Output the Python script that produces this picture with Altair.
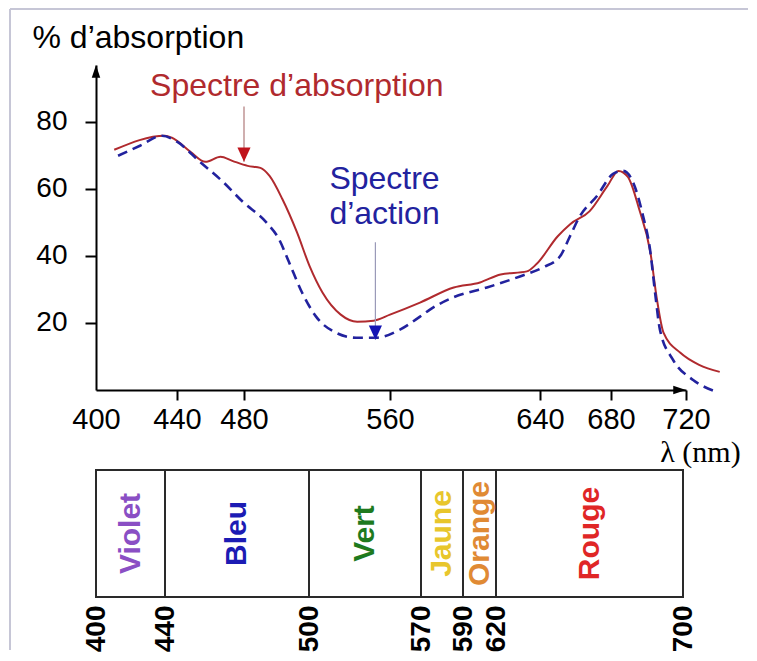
import altair as alt
import pandas as pd

# ---------------- data ----------------
abs_nm = [409, 434, 437.5, 448, 457, 466, 473, 482, 489, 494, 501, 509, 516, 523, 533, 542, 551, 560,
          576, 594, 608, 619, 633, 638, 650, 657, 668, 678, 684, 689, 695, 701, 704.5, 708, 717, 727, 738]
abs_val = [71.7, 75.9, 75.3, 71.1, 68.1, 69.6, 68.4, 66.9, 66.3, 63.9, 57, 47.1, 36.9, 29.1, 22.5, 20.4, 20.7, 22.5,
           26.1, 30.6, 32.1, 34.5, 35.4, 37.5, 45.9, 49.5, 53.4, 60.9, 65.4, 63.6, 54, 41.1, 27, 17.1, 11.1, 7.5, 5.4]

act_nm = [410.9, 421.7, 432.6, 440, 453.7, 467.5, 479.4, 492.1, 499.2, 504.7, 511.8, 519.5, 530.4, 541.4, 552.3,
          565.3, 576, 581.3, 593.6, 611.7, 629.3, 641.7, 651.3, 656.9, 662.5, 672.1, 681.1, 686.4, 691.7, 697.1,
          700.8, 703.5, 706.1, 713.1, 723.8, 736.6]
act_val = [69.9, 72.9, 75.9, 74.1, 68.1, 62.1, 56.1, 50.1, 45, 38.1, 29.1, 21.9, 17.1, 15.6, 15.6,
           18, 21.9, 24, 27.6, 30.6, 33.9, 36.6, 39.9, 45.9, 51.9, 57.9, 64.5, 65.4, 62.1, 51.9,
           42, 29.1, 18, 9, 3, -0.6]

x_ticks = [400, 440, 480, 560, 640, 680, 720]
y_ticks = [20, 40, 60, 80]

bands = ["Violet", "Bleu", "Vert", "Jaune", "Orange", "Rouge"]
band_start = [400, 440, 500, 570, 590, 620]
band_end = [440, 500, 570, 590, 620, 700]
band_colors = ["#8a4fc4", "#1c1cb4", "#1e7a1e", "#e8c62c", "#e08a34", "#e02626"]
band_ticks = [400, 440, 500, 570, 590, 620, 700]

# annotation anchors (data units)
red_label = {"nm": 426.7, "v": 90.6, "t": "Spectre d’absorption"}
red_arrow = {"nm": 480, "top": 84.6, "tip": 68.1}
blue_label = [{"nm": 557, "v": 63, "t": "Spectre"}, {"nm": 557, "v": 52.5, "t": "d’action"}]
blue_arrow = {"nm": 552, "top": 44.1, "tip": 15.0}

FONT = "Liberation Sans"
RED = "#b02a2e"
BLUE = "#22229e"

# ---------------- top chart ----------------
xs = alt.Scale(domain=x_ticks, range=[0, 81, 148, 294, 444, 515, 590])
ys = alt.Scale(domain=[0, 97])

df_abs = pd.DataFrame({"nm": abs_nm, "v": abs_val})
df_act = pd.DataFrame({"nm": act_nm, "v": act_val})

x_axis = alt.Axis(values=x_ticks, grid=False, domainColor="black", domainWidth=2, tickColor="black",
                  tickWidth=2, tickSize=10, labelFontSize=29, labelFont=FONT, labelColor="black",
                  labelPadding=5, labelFlush=False, labelOverlap=False,
                  tickOpacity={"condition": {"test": "datum.value === 400", "value": 0}, "value": 1},
                  title="λ (nm)", titleFont="Liberation Serif", titleFontSize=30, titleFontWeight="normal",
                  titleColor="black", titleX=604, titleY=62, titleAlign="center", titleBaseline="middle")
y_axis = alt.Axis(values=y_ticks, grid=False, domainColor="black", domainWidth=2, tickColor="black",
                  tickWidth=2, tickSize=11, labelFontSize=28, labelFont=FONT, labelColor="black",
                  labelPadding=18,
                  title="% d’absorption", titleAngle=0, titleAlign="left", titleBaseline="alphabetic",
                  titleX=-64, titleY=-18, titleFont=FONT, titleFontSize=32, titleFontWeight="normal",
                  titleColor="black")

base_line = alt.Chart(df_abs).mark_line(color=RED, strokeWidth=2, interpolate="monotone").encode(
    x=alt.X("nm:Q", scale=xs, axis=x_axis),
    y=alt.Y("v:Q", scale=ys, axis=y_axis),
)
act_line = alt.Chart(df_act).mark_line(color=BLUE, strokeWidth=2.6, strokeDash=[10, 6],
                                       interpolate="monotone").encode(
    x=alt.X("nm:Q", scale=xs), y=alt.Y("v:Q", scale=ys))

# axis arrows
y_arrow = alt.Chart(pd.DataFrame({"nm": [400], "v": [97]})).mark_point(
    shape="M0,0L0.6,1.8L-0.6,1.8Z", filled=True, color="black", opacity=1, size=200).encode(
    x=alt.X("nm:Q", scale=xs), y=alt.Y("v:Q", scale=ys))
x_arrow = alt.Chart(pd.DataFrame({"nm": [720], "v": [0]})).mark_point(
    shape="M0,0L-1.8,-0.6L-1.8,0.6Z", filled=True, color="black", opacity=1, size=200).encode(
    x=alt.X("nm:Q", scale=xs), y=alt.Y("v:Q", scale=ys))

# annotations
red_txt = alt.Chart(pd.DataFrame([red_label])).mark_text(
    align="left", baseline="middle", font=FONT, fontSize=32, color=RED).encode(
    x=alt.X("nm:Q", scale=xs), y=alt.Y("v:Q", scale=ys), text="t:N")
red_shaft = alt.Chart(pd.DataFrame([red_arrow])).mark_rule(color="#b07a7a", strokeWidth=1.2).encode(
    x=alt.X("nm:Q", scale=xs), y=alt.Y("top:Q", scale=ys), y2="tip:Q")
red_head = alt.Chart(pd.DataFrame([red_arrow])).mark_point(
    shape="M0,0L-0.6,-1.3L0.6,-1.3Z", filled=True, color="#c0141c", opacity=1, size=480).encode(
    x=alt.X("nm:Q", scale=xs), y=alt.Y("tip:Q", scale=ys))

blue_txt = alt.Chart(pd.DataFrame(blue_label)).mark_text(
    align="center", baseline="middle", font=FONT, fontSize=32, color=BLUE).encode(
    x=alt.X("nm:Q", scale=xs), y=alt.Y("v:Q", scale=ys), text="t:N")
blue_shaft = alt.Chart(pd.DataFrame([blue_arrow])).mark_rule(color="#9a9ab8", strokeWidth=1.2).encode(
    x=alt.X("nm:Q", scale=xs), y=alt.Y("top:Q", scale=ys), y2="tip:Q")
blue_head = alt.Chart(pd.DataFrame([blue_arrow])).mark_point(
    shape="M0,0L-0.6,-1.3L0.6,-1.3Z", filled=True, color="#1414b4", opacity=1, size=480).encode(
    x=alt.X("nm:Q", scale=xs), y=alt.Y("tip:Q", scale=ys))

# light picture frame (top and left edges, as in the scanned figure)
frame_v = alt.Chart(pd.DataFrame({"k": [0]})).mark_rule(color="#c6c6d6", strokeWidth=2).encode(
    x=alt.value(-86), y=alt.value(-56), y2=alt.value(585))
frame_h = alt.Chart(pd.DataFrame({"k": [0]})).mark_rule(color="#c6c6d6", strokeWidth=2).encode(
    x=alt.value(-86), x2=alt.value(652), y=alt.value(-56))

top = alt.layer(frame_v, frame_h, base_line, act_line, y_arrow, x_arrow, red_shaft, red_head, red_txt,
                blue_shaft, blue_head, blue_txt).properties(width=627, height=325)

# ---------------- bottom chart ----------------
df_bands = pd.DataFrame({"band": bands, "start": band_start, "end": band_end, "color": band_colors,
                         "lo": [0] * 6, "hi": [1] * 6, "mid_y": [0.5] * 6})
bxs = alt.Scale(domain=band_ticks, range=[0, 69, 213, 325, 367, 400, 587])
bys = alt.Scale(domain=[0, 1])

rects = alt.Chart(df_bands).mark_rect(fill="white", stroke="#2a2a2a", strokeWidth=2).encode(
    x=alt.X("start:Q", scale=bxs,
            axis=alt.Axis(values=band_ticks, domain=False, ticks=False, grid=False, labelAngle=270,
                          labelFontSize=28, labelFontWeight="bold", labelFont=FONT, labelColor="black",
                          labelPadding=8, labelFlush=False, labelOverlap=False, title=None)),
    x2="end:Q",
    y=alt.Y("lo:Q", scale=bys, axis=None),
    y2="hi:Q",
)
labels = alt.Chart(df_bands).transform_calculate(mid="(datum.start + datum.end) / 2").mark_text(
    angle=270, align="center", baseline="middle", font=FONT, fontSize=30, fontWeight="bold").encode(
    x=alt.X("mid:Q", scale=bxs),
    y=alt.Y("mid_y:Q", scale=bys),
    text="band:N",
    color=alt.Color("color:N", scale=None),
)
bottom = alt.layer(rects, labels).properties(width=587, height=127)

chart = alt.vconcat(top, bottom, spacing=80, bounds="flush").properties(
    padding={"left": 1, "top": 0, "right": 0, "bottom": 0},
    background="white",
).configure_view(strokeWidth=0, stroke="transparent")

chart.save("out.html", embed_options={"renderer": "svg", "actions": False})
